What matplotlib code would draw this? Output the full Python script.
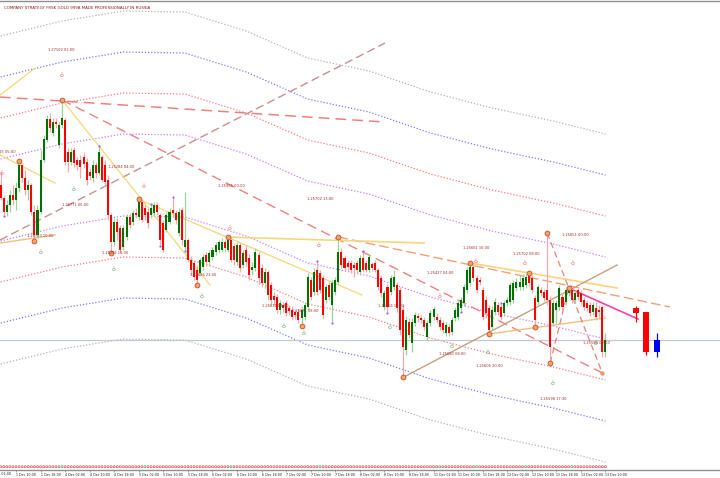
import numpy as np
import matplotlib.pyplot as plt
from matplotlib import transforms

# H1 bars, 1 Dec 05:00 .. 13 Dec 10:00
opens = [1.26675, 1.26610, 1.26540, 1.26575, 1.26625, 1.26600, 1.26660, 1.26775, 1.26710, 1.26650,
         1.26675, 1.26540, 1.26425, 1.26540, 1.26800, 1.26900, 1.27005, 1.26935, 1.26990, 1.26875,
         1.26975, 1.27000, 1.26840, 1.26790, 1.26850, 1.26800, 1.26800, 1.26815, 1.26790, 1.26740,
         1.26710, 1.26775, 1.26735, 1.26815, 1.26775, 1.26700, 1.26525, 1.26390, 1.26490, 1.26460,
         1.26365, 1.26415, 1.26515, 1.26490, 1.26535, 1.26515, 1.26590, 1.26560, 1.26540, 1.26525,
         1.26535, 1.26575, 1.26525, 1.26485, 1.26450, 1.26490, 1.26550, 1.26535, 1.26435, 1.26550,
         1.26365, 1.26400, 1.26300, 1.26285, 1.26250, 1.26235, 1.26265, 1.26325, 1.26290, 1.26315,
         1.26340, 1.26350, 1.26350, 1.26390, 1.26350, 1.26400, 1.26370, 1.26290, 1.26375, 1.26275,
         1.26350, 1.26310, 1.26250, 1.26260, 1.26325, 1.26260, 1.26185, 1.26240, 1.26175, 1.26120,
         1.26115, 1.26050, 1.26075, 1.26085, 1.26060, 1.26050, 1.26040, 1.26040, 1.26010, 1.26015,
         1.26065, 1.26200, 1.26140, 1.26250, 1.26235, 1.26210, 1.26100, 1.26175, 1.26075, 1.26140,
         1.26190, 1.26340, 1.26310, 1.26285, 1.26285, 1.26275, 1.26285, 1.26240, 1.26310, 1.26285,
         1.26250, 1.26280, 1.26285, 1.26250, 1.26210, 1.26065, 1.26165, 1.26140, 1.26165, 1.26175,
         1.26150, 1.26050, 1.25850, 1.25990, 1.25885, 1.25985, 1.26020, 1.26010, 1.26000, 1.25915,
         1.25985, 1.26015, 1.26015, 1.26000, 1.25985, 1.25935, 1.25965, 1.25940, 1.26010, 1.26015,
         1.26060, 1.26085, 1.26150, 1.26185, 1.26265, 1.26210, 1.26200, 1.26150, 1.26100, 1.26060,
         1.25965, 1.26040, 1.26075, 1.26065, 1.26035, 1.26085, 1.26090, 1.26100, 1.26160, 1.26165,
         1.26165, 1.26175, 1.26225, 1.26210, 1.26110, 1.26090, 1.26150, 1.26140, 1.26150, 1.26100,
         1.25985, 1.26050, 1.26065, 1.26115, 1.26090, 1.26135, 1.26150, 1.26100, 1.26150, 1.26135,
         1.26100, 1.26085, 1.26075, 1.26040, 1.26060, 1.26050, 1.26065, 1.25840]
highs = [1.26740, 1.26625, 1.26600, 1.26650, 1.26675, 1.26690, 1.26795, 1.26785, 1.26750, 1.26700,
         1.26685, 1.26575, 1.26575, 1.26850, 1.26925, 1.27025, 1.27035, 1.27010, 1.27010, 1.26990,
         1.27100, 1.27010, 1.26860, 1.26860, 1.26865, 1.26815, 1.26825, 1.26840, 1.26810, 1.26760,
         1.26800, 1.26790, 1.26865, 1.26825, 1.26800, 1.26725, 1.26535, 1.26510, 1.26510, 1.26475,
         1.26475, 1.26530, 1.26535, 1.26550, 1.26560, 1.26605, 1.26600, 1.26575, 1.26560, 1.26575,
         1.26590, 1.26590, 1.26535, 1.26500, 1.26540, 1.26560, 1.26610, 1.26550, 1.26560, 1.26565,
         1.26640, 1.26410, 1.26320, 1.26300, 1.26275, 1.26310, 1.26330, 1.26340, 1.26350, 1.26365,
         1.26390, 1.26400, 1.26410, 1.26400, 1.26415, 1.26410, 1.26385, 1.26390, 1.26385, 1.26350,
         1.26375, 1.26330, 1.26290, 1.26360, 1.26340, 1.26280, 1.26260, 1.26250, 1.26190, 1.26140,
         1.26130, 1.26100, 1.26090, 1.26100, 1.26075, 1.26070, 1.26055, 1.26055, 1.26070, 1.26090,
         1.26235, 1.26215, 1.26260, 1.26290, 1.26250, 1.26225, 1.26180, 1.26190, 1.26200, 1.26215,
         1.26415, 1.26360, 1.26325, 1.26300, 1.26300, 1.26290, 1.26300, 1.26325, 1.26340, 1.26300,
         1.26330, 1.26290, 1.26300, 1.26260, 1.26225, 1.26150, 1.26180, 1.26225, 1.26250, 1.26190,
         1.26165, 1.26075, 1.26020, 1.26010, 1.26010, 1.26040, 1.26035, 1.26025, 1.26015, 1.26000,
         1.26050, 1.26070, 1.26035, 1.26015, 1.26000, 1.25990, 1.25980, 1.26015, 1.26065, 1.26100,
         1.26115, 1.26180, 1.26265, 1.26285, 1.26280, 1.26225, 1.26215, 1.26165, 1.26120, 1.26075,
         1.26070, 1.26110, 1.26090, 1.26080, 1.26100, 1.26115, 1.26190, 1.26200, 1.26210, 1.26225,
         1.26230, 1.26230, 1.26235, 1.26225, 1.26125, 1.26180, 1.26165, 1.26155, 1.26435, 1.26120,
         1.26100, 1.26100, 1.26175, 1.26135, 1.26165, 1.26160, 1.26160, 1.26150, 1.26160, 1.26150,
         1.26115, 1.26100, 1.26090, 1.26090, 1.26100, 1.26075, 1.26075, 1.25935]
lows = [1.26600, 1.26525, 1.26520, 1.26540, 1.26575, 1.26550, 1.26640, 1.26690, 1.26625, 1.26600,
        1.26525, 1.26395, 1.26410, 1.26530, 1.26790, 1.26890, 1.26940, 1.26920, 1.26960, 1.26860,
        1.26960, 1.26775, 1.26740, 1.26775, 1.26765, 1.26750, 1.26710, 1.26760, 1.26675, 1.26700,
        1.26690, 1.26710, 1.26725, 1.26690, 1.26675, 1.26500, 1.26335, 1.26370, 1.26400, 1.26340,
        1.26350, 1.26400, 1.26460, 1.26475, 1.26510, 1.26500, 1.26490, 1.26500, 1.26460, 1.26510,
        1.26525, 1.26525, 1.26375, 1.26340, 1.26440, 1.26480, 1.26520, 1.26480, 1.26420, 1.26375,
        1.26350, 1.26290, 1.26225, 1.26200, 1.26175, 1.26220, 1.26250, 1.26270, 1.26270, 1.26300,
        1.26325, 1.26335, 1.26340, 1.26340, 1.26340, 1.26290, 1.26275, 1.26275, 1.26240, 1.26260,
        1.26270, 1.26200, 1.26225, 1.26245, 1.26180, 1.26165, 1.26160, 1.26100, 1.26075, 1.26070,
        1.26035, 1.26030, 1.26040, 1.26020, 1.26025, 1.26000, 1.26005, 1.25985, 1.25970, 1.26000,
        1.26050, 1.26100, 1.26125, 1.26125, 1.26135, 1.26010, 1.26085, 1.26100, 1.25990, 1.26125,
        1.26180, 1.26260, 1.26245, 1.26250, 1.26235, 1.26215, 1.26235, 1.26225, 1.26240, 1.26240,
        1.26240, 1.26245, 1.26240, 1.26150, 1.26115, 1.26050, 1.26040, 1.26125, 1.26150, 1.26040,
        1.25925, 1.25715, 1.25825, 1.25910, 1.25840, 1.25970, 1.25990, 1.25985, 1.25950, 1.25900,
        1.25970, 1.26000, 1.25985, 1.25950, 1.25935, 1.25920, 1.25920, 1.25925, 1.25995, 1.26000,
        1.26045, 1.26070, 1.26135, 1.26170, 1.26195, 1.26135, 1.26175, 1.26000, 1.26010, 1.25930,
        1.25950, 1.26025, 1.26025, 1.26000, 1.26020, 1.26070, 1.26075, 1.26085, 1.26145, 1.26150,
        1.26150, 1.26160, 1.26170, 1.26135, 1.25965, 1.26075, 1.26120, 1.26095, 1.26075, 1.25785,
        1.25970, 1.25985, 1.26050, 1.26050, 1.26075, 1.26120, 1.26085, 1.26085, 1.26100, 1.26075,
        1.26050, 1.26045, 1.26020, 1.26025, 1.26000, 1.26010, 1.25815, 1.25815]
closes = [1.26610, 1.26540, 1.26575, 1.26625, 1.26600, 1.26660, 1.26775, 1.26710, 1.26650, 1.26675,
          1.26540, 1.26425, 1.26550, 1.26800, 1.26905, 1.27005, 1.26960, 1.26990, 1.26980, 1.26975,
          1.27010, 1.26790, 1.26790, 1.26840, 1.26785, 1.26775, 1.26765, 1.26780, 1.26700, 1.26720,
          1.26775, 1.26735, 1.26840, 1.26700, 1.26690, 1.26525, 1.26390, 1.26490, 1.26440, 1.26350,
          1.26460, 1.26515, 1.26475, 1.26535, 1.26525, 1.26590, 1.26500, 1.26525, 1.26485, 1.26560,
          1.26575, 1.26540, 1.26400, 1.26350, 1.26525, 1.26540, 1.26535, 1.26500, 1.26540, 1.26400,
          1.26400, 1.26300, 1.26250, 1.26215, 1.26200, 1.26300, 1.26315, 1.26290, 1.26335, 1.26350,
          1.26375, 1.26390, 1.26390, 1.26360, 1.26400, 1.26300, 1.26300, 1.26375, 1.26260, 1.26335,
          1.26290, 1.26225, 1.26265, 1.26340, 1.26210, 1.26185, 1.26240, 1.26125, 1.26100, 1.26100,
          1.26050, 1.26085, 1.26060, 1.26035, 1.26045, 1.26015, 1.26025, 1.26000, 1.26050, 1.26075,
          1.26215, 1.26115, 1.26240, 1.26140, 1.26150, 1.26025, 1.26165, 1.26115, 1.26185, 1.26200,
          1.26340, 1.26275, 1.26260, 1.26265, 1.26250, 1.26260, 1.26250, 1.26310, 1.26250, 1.26250,
          1.26315, 1.26260, 1.26250, 1.26165, 1.26135, 1.26135, 1.26065, 1.26210, 1.26215, 1.26060,
          1.25950, 1.25865, 1.26000, 1.25925, 1.25990, 1.26025, 1.26010, 1.26000, 1.25965, 1.25985,
          1.26035, 1.26055, 1.26000, 1.25965, 1.25950, 1.25975, 1.25935, 1.26000, 1.26050, 1.26085,
          1.26100, 1.26165, 1.26250, 1.26265, 1.26210, 1.26150, 1.26190, 1.26015, 1.26035, 1.25950,
          1.26050, 1.26090, 1.26040, 1.26015, 1.26085, 1.26100, 1.26175, 1.26185, 1.26190, 1.26190,
          1.26210, 1.26215, 1.26185, 1.26150, 1.26000, 1.26165, 1.26135, 1.26110, 1.26100, 1.25865,
          1.26085, 1.26085, 1.26160, 1.26065, 1.26150, 1.26150, 1.26100, 1.26135, 1.26115, 1.26090,
          1.26065, 1.26060, 1.26035, 1.26075, 1.26015, 1.26040, 1.25840, 1.25900]

# higher timeframe candles drawn right of the chart
htf_x = [207.0, 210.2, 213.8]
htf_open = [1.26060, 1.26040, 1.25840]
htf_high = [1.26070, 1.26040, 1.25935]
htf_low = [1.25990, 1.25825, 1.25815]
htf_close = [1.26035, 1.25840, 1.25900]
htf_color = ['#ff0000', '#ff0000', '#0000ff']

# curved channel: centre line and band step
band_idx = [0, 20, 40, 60, 80, 100, 120, 140, 160, 180, 197]
band_mid = [1.26600, 1.26675, 1.26725, 1.26720, 1.26625, 1.26490, 1.26425, 1.26320, 1.26240, 1.26175, 1.26110]
band_step = 0.00205
band_colors = ['#c77dff', '#ff7b7b', '#7b7bff', '#b4b4b4']

# zigzag swing points
zz_high_idx = [6, 20, 45, 74, 110, 153, 172, 178, 185]
zz_low_idx = [11, 36, 64, 98, 131, 159, 174, 179]

# fractal dots at wick tips
frac_high_idx = [32, 49, 56, 103, 118, 163]
frac_low_idx = [1, 52, 60, 108, 126, 150]

# trend lines: (x0, p0, x1, p1, colour, style, width)
trend_lines = [
    (-0.2, 1.27115, 125.2, 1.26990, '#f08080', (0, (7, 4)), 1.1),
    (-0.2, 1.26400, 125.2, 1.27385, '#c89090', (0, (6, 3)), 1.0),
    (20.0, 1.27100, 196.0, 1.25735, '#f08080', (0, (7, 4)), 1.0),
    (110.0, 1.26415, 218.0, 1.26065, '#f4a070', (0, (7, 3)), 1.0),
    (20.0, 1.27100, 68.2, 1.26175, '#f5d77a', '-', 0.9),
    (-0.2, 1.27125, 11.2, 1.27260, '#f5d77a', '-', 0.9),
    (-0.2, 1.26825, 17.7, 1.26685, '#f5d77a', '-', 0.9),
    (-0.2, 1.26385, 17.7, 1.26425, '#f0c080', '-', 1.0),
    (44.7, 1.26605, 117.7, 1.26125, '#f5d77a', '-', 0.9),
    (74.0, 1.26415, 137.9, 1.26385, '#f5d77a', '-', 1.2),
    (153.0, 1.26285, 200.8, 1.26160, '#ffd27f', '-', 1.2),
    (159.0, 1.25930, 196.9, 1.26010, '#f0c080', '-', 1.0),
    (130.7, 1.25710, 200.8, 1.26275, '#c8a080', '-', 1.0),
    (178.0, 1.26435, 196.0, 1.25735, '#f08080', (0, (5, 3)), 0.9),
    (179.0, 1.25785, 185.0, 1.26160, '#f08080', (0, (5, 3)), 0.9),
    (185.0, 1.26160, 207.6, 1.26005, '#ff3fa4', '-', 1.2),
]

# fractal arrows
up_sig_x = [0.3, 19.7, 46.7, 74.7, 103.7, 142.8, 154.8, 170.5, 186.4]
up_sig_p = [1.26735, 1.27225, 1.26670, 1.26460, 1.26375, 1.26120, 1.26295, 1.26285, 1.26285]
dn_sig_x = [13.1, 23.9, 36.9, 65.3, 92.0, 98.8, 126.8, 147.0, 158.7, 179.9, 193.9]
dn_sig_p = [1.26340, 1.26655, 1.26255, 1.26120, 1.25970, 1.25935, 1.25965, 1.25870, 1.25840, 1.25685, 1.25885]

# swing price labels
lbl_text = ['1.27102 01:00', '1.26284 04:00', '1.26771 05:00', '1.26793 10:00', '1.26284 16:00',
            '1.25965 00:00', '1.25816 23:00', '1.25702 13:00', '1.25671 02:00', '1.25671 08:00',
            '1.25866 12:00', '1.25661 16:00', '1.25427 04:00', '1.25702 08:00', '1.25651 00:00',
            '1.25680 08:00', '1.25605 20:00', '1.25598 17:30', '1.25580 09:00']
lbl_x = [15.4, 35.0, 20.0, 8.6, 33.0, 70.8, 61.7, 99.8, 85.1, 94.9,
         122.9, 150.6, 138.9, 166.9, 182.8, 142.8, 154.8, 175.7, 189.7]
lbl_p = [1.27350, 1.26765, 1.26575, 1.26420, 1.26335, 1.26670, 1.26225, 1.26605, 1.26070, 1.26045,
         1.26070, 1.26360, 1.26235, 1.26330, 1.26425, 1.25830, 1.25770, 1.25605, 1.25885]

# bottom signal strip: bars marked green
strip_green = [20, 47, 75, 104, 143, 155, 171, 186]

tick_labels = ['1 Dec 10:00', '1 Dec 18:00', '4 Dec 02:00', '4 Dec 10:00', '4 Dec 18:00',
               '5 Dec 02:00', '5 Dec 10:00', '5 Dec 18:00', '6 Dec 02:00', '6 Dec 10:00',
               '6 Dec 18:00', '7 Dec 02:00', '7 Dec 10:00', '7 Dec 18:00', '8 Dec 02:00',
               '8 Dec 10:00', '8 Dec 18:00', '11 Dec 02:00', '11 Dec 10:00', '11 Dec 18:00',
               '12 Dec 02:00', '12 Dec 10:00', '12 Dec 18:00', '13 Dec 02:00', '13 Dec 10:00']

o = np.array(opens); h = np.array(highs); l = np.array(lows); c = np.array(closes)
x = np.arange(len(c))

fig = plt.figure(figsize=(7.2, 4.78), dpi=100)
ax = fig.add_axes([0, 0.0167, 1, 0.9812])
ax.set_xlim(-0.21, 234.3)
ax.set_ylim(1.2525, 1.27595)

# channel bands
for k, col in enumerate(band_colors, start=1):
    for sgn in (-1, 1):
        ax.plot(band_idx, np.array(band_mid) + sgn * k * band_step, color=col,
                lw=0.9, ls=(0, (1, 1.5)), zorder=1)

ax.axhline(c[-1], color='#c4c8d0', lw=0.9, zorder=1)

for x0, p0, x1, p1, col, ls, lw in trend_lines:
    ax.plot([x0, x1], [p0, p1], color=col, ls=ls, lw=lw, zorder=2)

# candles
up = c >= o
body_lo = np.minimum(o, c)
body_h = np.maximum(np.abs(c - o), 0.00003)
ax.vlines(x[up], l[up], h[up], color='#9ad49a', lw=0.9, zorder=3)
ax.vlines(x[~up], l[~up], h[~up], color='#f7a8a8', lw=0.9, zorder=3)
ax.bar(x[up], body_h[up], 0.66, bottom=body_lo[up], color='#007000', lw=0, zorder=3)
ax.bar(x[~up], body_h[~up], 0.66, bottom=body_lo[~up], color='#ff0000', lw=0, zorder=3)

for i in range(len(htf_x)):
    ax.vlines(htf_x[i], htf_low[i], htf_high[i], color=htf_color[i], lw=0.9, zorder=3)
    lo = min(htf_open[i], htf_close[i])
    ax.bar(htf_x[i], abs(htf_close[i] - htf_open[i]), 1.9, bottom=lo,
           color=htf_color[i], lw=0, zorder=3)

# zigzag points and fractal dots
ax.plot(x[zz_high_idx], h[zz_high_idx], 'o', ms=3.5, mfc='#f4a460', mec='#c05030', mew=0.6, zorder=4)
ax.plot(x[zz_low_idx], l[zz_low_idx], 'o', ms=3.5, mfc='#f4a460', mec='#c05030', mew=0.6, zorder=4)
ax.plot([196], [1.25735], 'o', ms=2.5, mfc='#f4a460', mec='#f08060', mew=0.5, zorder=4)
ax.plot(x[frac_high_idx], h[frac_high_idx] + 0.00005, 'o', ms=1.6, color='#a060f0', mew=0, zorder=4)
ax.plot(x[frac_low_idx], l[frac_low_idx] - 0.00005, 'o', ms=1.6, color='#a060f0', mew=0, zorder=4)

for xi, pi in zip(up_sig_x, up_sig_p):
    ax.text(xi, pi, 'ô', color='#f06060', fontsize=4.5, ha='center', va='center', zorder=4)
for xi, pi in zip(dn_sig_x, dn_sig_p):
    ax.text(xi, pi, 'ô', color='#60a060', fontsize=4.5, ha='center', va='center', zorder=4)

for t, xi, pi in zip(lbl_text, lbl_x, lbl_p):
    ax.text(xi, pi, t, color='#a03030', fontsize=2.6, ha='left', va='center', zorder=5)
ax.text(5.0, 1.26840, '1.26815 05:00', color='#a03030', fontsize=2.6, ha='right', va='center')

ax.text(0.006, 0.985, 'COMPANY STRATEGY FRSK GOLD 999A MADE PROFESSIONALLY IN RUSSIA',
        transform=ax.transAxes, color='#8b1a1a', fontsize=2.9, ha='left', va='center')

# signal strip along the bottom
trans = transforms.blended_transform_factory(ax.transData, ax.transAxes)
strip_cols = ['#3cb043' if i in strip_green else '#e05050' for i in x]
ax.scatter(x, np.full(len(x), 0.007), s=2.2, facecolors='none', edgecolors=strip_cols,
           linewidths=0.5, transform=trans, zorder=5, clip_on=False)

ticks = 5 + 8 * np.arange(len(tick_labels))
ax.set_xticks(ticks)
ax.set_xticklabels(tick_labels, fontsize=2.3, ha='left', color='#202020')
ax.tick_params(axis='x', length=1.5, width=0.5, pad=0.8, color='#808080')
ax.text(-3, -0.004, '1 Dec 02:00', transform=trans, fontsize=2.3, ha='left', va='top', color='#202020')
ax.set_yticks([])
for side in ('left', 'right'):
    ax.spines[side].set_visible(False)
for side in ('top', 'bottom'):
    ax.spines[side].set_color('#909090')
    ax.spines[side].set_linewidth(1.0)

fig.savefig('out.png', dpi=100)
